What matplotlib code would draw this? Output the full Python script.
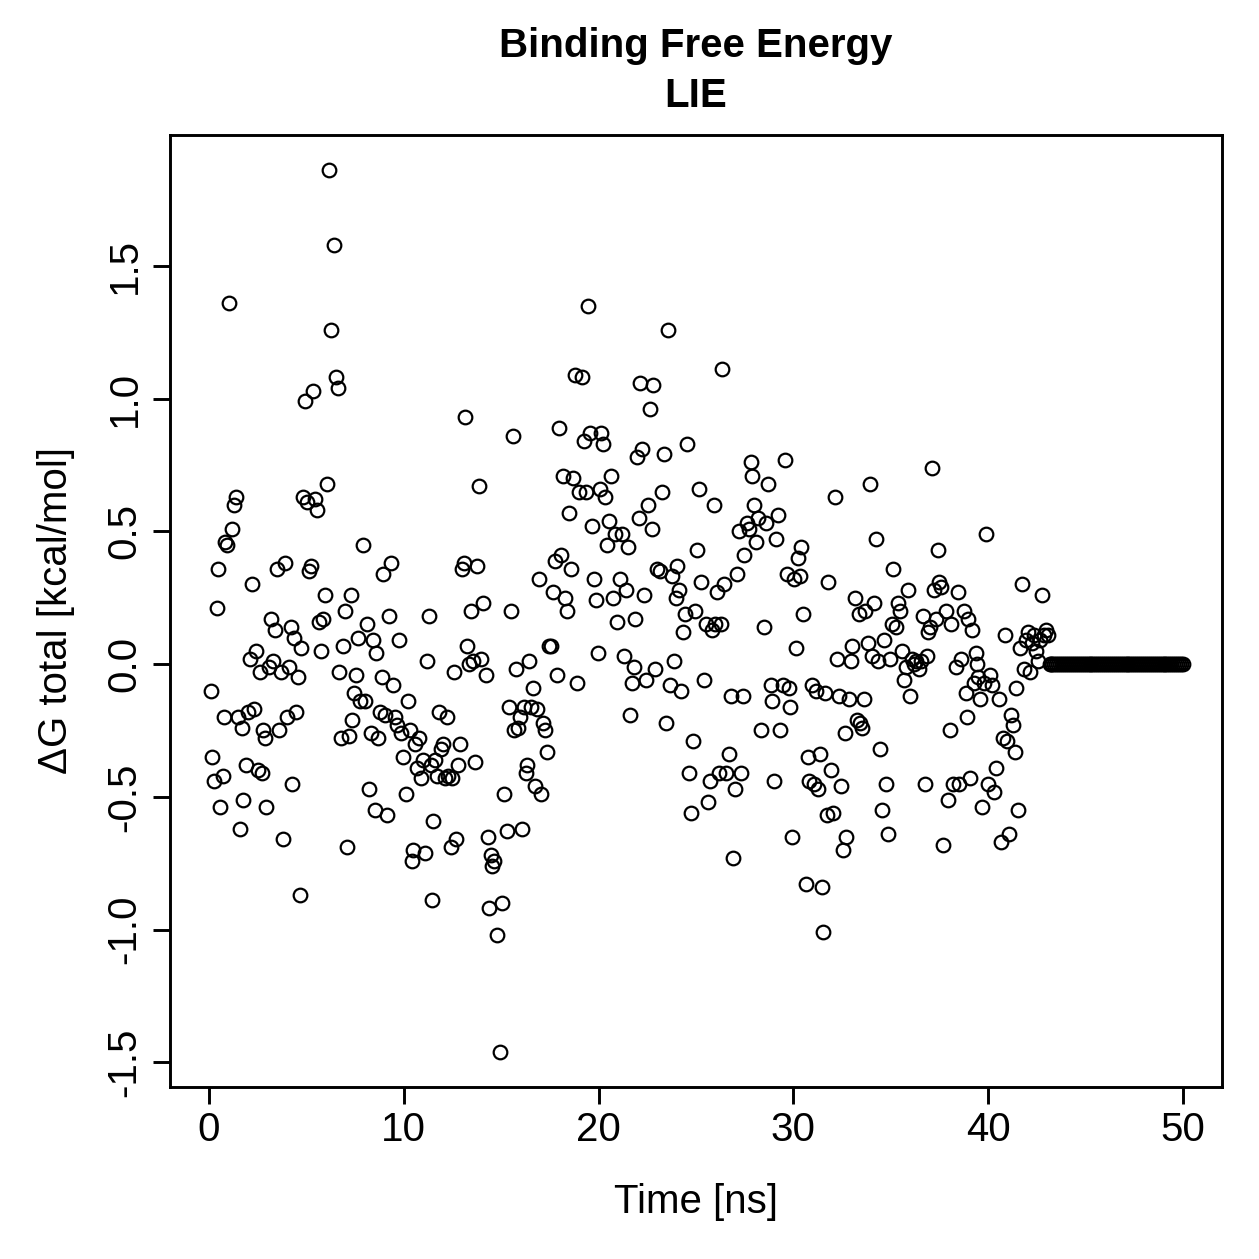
import matplotlib
matplotlib.use("Agg")
import matplotlib.pyplot as plt

time_ns = [0.1, 0.15, 0.25, 0.4, 0.45, 0.55, 0.7, 0.75, 0.85, 0.95, 1.05, 1.2, 1.3, 1.4, 1.5, 1.6, 1.7, 1.75, 1.9, 2.0,
           2.1, 2.2, 2.3, 2.4, 2.5, 2.6, 2.7, 2.8, 2.9, 2.95, 3.1, 3.2, 3.3, 3.4, 3.5, 3.6, 3.7, 3.8, 3.9, 4.0,
           4.1, 4.2, 4.25, 4.35, 4.45, 4.55, 4.65, 4.75, 4.85, 4.95, 5.05, 5.15, 5.25, 5.35, 5.45, 5.55, 5.65, 5.75, 5.85, 5.95,
           6.05, 6.15, 6.25, 6.4, 6.5, 6.6, 6.7, 6.8, 6.9, 7.0, 7.1, 7.2, 7.3, 7.35, 7.45, 7.55, 7.65, 7.75, 7.9, 8.0,
           8.1, 8.2, 8.3, 8.4, 8.5, 8.6, 8.7, 8.8, 8.9, 8.95, 9.05, 9.15, 9.25, 9.35, 9.45, 9.55, 9.65, 9.75, 9.85, 9.95,
           10.1, 10.2, 10.3, 10.4, 10.5, 10.6, 10.7, 10.8, 10.9, 11.0, 11.1, 11.2, 11.3, 11.4, 11.45, 11.5, 11.6, 11.7, 11.8, 11.9,
           12.0, 12.1, 12.2, 12.25, 12.4, 12.5, 12.6, 12.7, 12.8, 12.9, 13.0, 13.1, 13.15, 13.25, 13.35, 13.45, 13.55, 13.65, 13.75, 13.85,
           13.95, 14.05, 14.2, 14.3, 14.4, 14.5, 14.55, 14.65, 14.8, 14.95, 15.05, 15.15, 15.3, 15.4, 15.5, 15.6, 15.65, 15.75, 15.85, 15.95,
           16.05, 16.15, 16.25, 16.35, 16.45, 16.55, 16.65, 16.75, 16.85, 16.95, 17.05, 17.15, 17.25, 17.35, 17.45, 17.55, 17.65, 17.75, 17.85, 17.95,
           18.05, 18.2, 18.3, 18.4, 18.5, 18.6, 18.7, 18.8, 18.9, 19.0, 19.15, 19.25, 19.35, 19.45, 19.55, 19.65, 19.75, 19.85, 19.95, 20.05,
           20.15, 20.25, 20.35, 20.45, 20.55, 20.65, 20.75, 20.85, 20.95, 21.1, 21.2, 21.3, 21.4, 21.5, 21.6, 21.7, 21.8, 21.85, 21.95, 22.05,
           22.15, 22.25, 22.35, 22.45, 22.55, 22.65, 22.75, 22.8, 22.9, 23.0, 23.15, 23.25, 23.35, 23.45, 23.55, 23.65, 23.75, 23.85, 23.95, 24.05,
           24.15, 24.25, 24.35, 24.45, 24.55, 24.65, 24.75, 24.85, 24.95, 25.05, 25.15, 25.25, 25.4, 25.5, 25.6, 25.7, 25.8, 25.9, 26.0, 26.1,
           26.2, 26.3, 26.35, 26.45, 26.55, 26.7, 26.8, 26.9, 27.0, 27.1, 27.2, 27.3, 27.4, 27.45, 27.6, 27.7, 27.8, 27.9, 28.0, 28.1,
           28.2, 28.35, 28.5, 28.6, 28.7, 28.85, 28.9, 29.0, 29.1, 29.2, 29.3, 29.45, 29.55, 29.65, 29.75, 29.85, 29.95, 30.05, 30.15, 30.25,
           30.35, 30.4, 30.5, 30.65, 30.75, 30.8, 30.95, 31.05, 31.15, 31.25, 31.35, 31.45, 31.5, 31.6, 31.7, 31.8, 31.95, 32.05, 32.15, 32.25,
           32.35, 32.45, 32.55, 32.65, 32.7, 32.85, 32.95, 33.0, 33.15, 33.25, 33.35, 33.4, 33.5, 33.6, 33.7, 33.85, 33.95, 34.05, 34.15, 34.25,
           34.35, 34.45, 34.55, 34.65, 34.75, 34.85, 34.95, 35.05, 35.1, 35.25, 35.35, 35.45, 35.6, 35.7, 35.8, 35.9, 36.0, 36.1, 36.2, 36.3,
           36.45, 36.55, 36.65, 36.75, 36.85, 36.9, 37.0, 37.1, 37.2, 37.3, 37.4, 37.5, 37.6, 37.7, 37.85, 37.95, 38.05, 38.1, 38.2, 38.35,
           38.45, 38.5, 38.6, 38.75, 38.85, 38.9, 38.95, 39.05, 39.15, 39.25, 39.35, 39.45, 39.5, 39.6, 39.7, 39.8, 39.9, 40.0, 40.1, 40.2,
           40.3, 40.4, 40.55, 40.65, 40.75, 40.85, 40.95, 41.05, 41.15, 41.25, 41.35, 41.45, 41.55, 41.65, 41.75, 41.85, 41.95, 42.05, 42.15, 42.25,
           42.35, 42.45, 42.55, 42.65, 42.75, 42.85, 42.95, 43.05, 43.15]

dg_total = [-0.10, -0.35, -0.44, 0.21, 0.36, -0.54, -0.42, -0.20, 0.46, 0.45, 1.36, 0.51, 0.60, 0.63, -0.20, -0.62, -0.24, -0.51, -0.38, -0.18,
            0.02, 0.30, -0.17, 0.05, -0.40, -0.03, -0.41, -0.25, -0.28, -0.54, -0.01, 0.17, 0.01, 0.13, 0.36, -0.25, -0.03, -0.66, 0.38, -0.20,
            -0.01, 0.14, -0.45, 0.10, -0.18, -0.05, -0.87, 0.06, 0.63, 0.99, 0.61, 0.35, 0.37, 1.03, 0.62, 0.58, 0.16, 0.05, 0.17, 0.26,
            0.68, 1.86, 1.26, 1.58, 1.08, 1.04, -0.03, -0.28, 0.07, 0.20, -0.69, -0.27, 0.26, -0.21, -0.11, -0.04, 0.10, -0.14, 0.45, -0.14,
            0.15, -0.47, -0.26, 0.09, -0.55, 0.04, -0.28, -0.18, -0.05, 0.34, -0.19, -0.57, 0.18, 0.38, -0.08, -0.20, -0.23, 0.09, -0.26, -0.35,
            -0.49, -0.14, -0.25, -0.74, -0.70, -0.30, -0.39, -0.28, -0.43, -0.36, -0.71, 0.01, 0.18, -0.38, -0.89, -0.59, -0.36, -0.42, -0.18, -0.32,
            -0.30, -0.43, -0.20, -0.42, -0.69, -0.43, -0.03, -0.66, -0.38, -0.30, 0.36, 0.38, 0.93, 0.07, 0.00, 0.20, 0.01, -0.37, 0.37, 0.67,
            0.02, 0.23, -0.04, -0.65, -0.92, -0.72, -0.76, -0.74, -1.02, -1.46, -0.90, -0.49, -0.63, -0.16, 0.20, 0.86, -0.25, -0.02, -0.24, -0.20,
            -0.62, -0.16, -0.41, -0.38, 0.01, -0.16, -0.09, -0.46, -0.17, 0.32, -0.49, -0.22, -0.25, -0.33, 0.07, 0.07, 0.27, 0.39, -0.04, 0.89,
            0.41, 0.71, 0.25, 0.20, 0.57, 0.36, 0.70, 1.09, -0.07, 0.65, 1.08, 0.84, 0.65, 1.35, 0.87, 0.52, 0.32, 0.24, 0.04, 0.66,
            0.87, 0.83, 0.63, 0.45, 0.54, 0.71, 0.25, 0.49, 0.16, 0.32, 0.49, 0.03, 0.28, 0.44, -0.19, -0.07, -0.01, 0.17, 0.78, 0.55,
            1.06, 0.81, 0.26, -0.06, 0.60, 0.96, 0.51, 1.05, -0.02, 0.36, 0.35, 0.65, 0.79, -0.22, 1.26, -0.08, 0.33, 0.01, 0.25, 0.37,
            0.28, -0.10, 0.12, 0.19, 0.83, -0.41, -0.56, -0.29, 0.20, 0.43, 0.66, 0.31, -0.06, 0.15, -0.52, -0.44, 0.13, 0.60, 0.15, 0.27,
            -0.41, 0.15, 1.11, 0.30, -0.41, -0.34, -0.12, -0.73, -0.47, 0.34, 0.50, -0.41, -0.12, 0.41, 0.53, 0.51, 0.76, 0.71, 0.60, 0.46,
            0.55, -0.25, 0.14, 0.53, 0.68, -0.08, -0.14, -0.44, 0.47, 0.56, -0.25, -0.08, 0.77, 0.34, -0.09, -0.16, -0.65, 0.32, 0.06, 0.40,
            0.33, 0.44, 0.19, -0.83, -0.35, -0.44, -0.08, -0.45, -0.10, -0.47, -0.34, -0.84, -1.01, -0.11, -0.57, 0.31, -0.40, -0.56, 0.63, 0.02,
            -0.12, -0.46, -0.70, -0.26, -0.65, -0.13, 0.01, 0.07, 0.25, -0.21, 0.19, -0.22, -0.24, -0.13, 0.20, 0.08, 0.68, 0.03, 0.23, 0.47,
            0.01, -0.32, -0.55, 0.09, -0.45, -0.64, 0.02, 0.15, 0.36, 0.14, 0.23, 0.20, 0.05, -0.06, -0.01, 0.28, -0.12, 0.02, -0.00, 0.01,
            -0.02, 0.01, 0.18, -0.45, 0.03, 0.12, 0.14, 0.74, 0.28, 0.17, 0.43, 0.31, 0.29, -0.68, 0.20, -0.51, -0.25, 0.15, -0.45, -0.01,
            0.27, -0.45, 0.02, 0.20, -0.11, -0.20, 0.17, -0.43, 0.13, -0.07, 0.04, -0.00, -0.05, -0.13, -0.54, -0.07, 0.49, -0.45, -0.04, -0.08,
            -0.48, -0.39, -0.13, -0.67, -0.28, 0.11, -0.29, -0.64, -0.19, -0.23, -0.33, -0.09, -0.55, 0.06, 0.30, -0.02, 0.09, 0.12, -0.03, 0.08,
            0.11, 0.05, 0.01, 0.09, 0.26, 0.11, 0.13, 0.11, 0.00]

tail_time = [43.2, 43.3, 43.4, 43.5, 43.6, 43.7, 43.8, 43.9, 44.0, 44.1, 44.2, 44.3, 44.4, 44.5, 44.6, 44.7, 44.8, 44.9, 45.0,
             45.1, 45.2, 45.3, 45.4, 45.5, 45.6, 45.7, 45.8, 45.9, 46.0, 46.1, 46.2, 46.3, 46.4, 46.5, 46.6, 46.7, 46.8, 46.9, 47.0,
             47.1, 47.2, 47.3, 47.4, 47.5, 47.6, 47.7, 47.8, 47.9, 48.0, 48.1, 48.2, 48.3, 48.4, 48.5, 48.6, 48.7, 48.8, 48.9, 49.0,
             49.1, 49.2, 49.3, 49.4, 49.5, 49.6, 49.7, 49.8, 49.9, 50.0]
tail_dg = [0.0] * len(tail_time)

x_ticks = [0, 10, 20, 30, 40, 50]
y_ticks = [-1.5, -1.0, -0.5, 0.0, 0.5, 1.0, 1.5]
y_tick_labels = ["-1.5", "-1.0", "-0.5", "0.0", "0.5", "1.0", "1.5"]

plt.rcParams['font.family'] = ['Liberation Sans', 'DejaVu Sans']

fig = plt.figure(figsize=(12.59, 12.59), dpi=100)
ax = fig.add_axes([0.135, 0.1366, 0.8356, 0.7562])

all_t = time_ns + tail_time
all_g = dg_total + tail_dg
ax.plot(all_t, all_g, linestyle='none', marker='o', markersize=9.8,
        markerfacecolor='none', markeredgecolor='black', markeredgewidth=1.6)

ax.set_xlim(-2, 52)
ax.set_ylim(-1.5928, 1.9928)
ax.set_xticks(x_ticks)
ax.set_xticklabels([str(v) for v in x_ticks])
ax.set_yticks(y_ticks)
ax.set_yticklabels(y_tick_labels, rotation=90, va='center')
ax.tick_params(axis='both', direction='out', length=12, width=2.1, labelsize=29)
ax.tick_params(axis='x', pad=5)
ax.tick_params(axis='y', pad=7)
for s in ax.spines.values():
    s.set_linewidth(2.1)

ax.set_xlabel("Time [ns]", fontsize=29, labelpad=25)
ax.set_ylabel("ΔG total [kcal/mol]", fontsize=29, labelpad=22)
ax.set_title("Binding Free Energy\nLIE", fontsize=29, fontweight='bold', pad=20, linespacing=1.4)

fig.savefig("out.png", dpi=100)
